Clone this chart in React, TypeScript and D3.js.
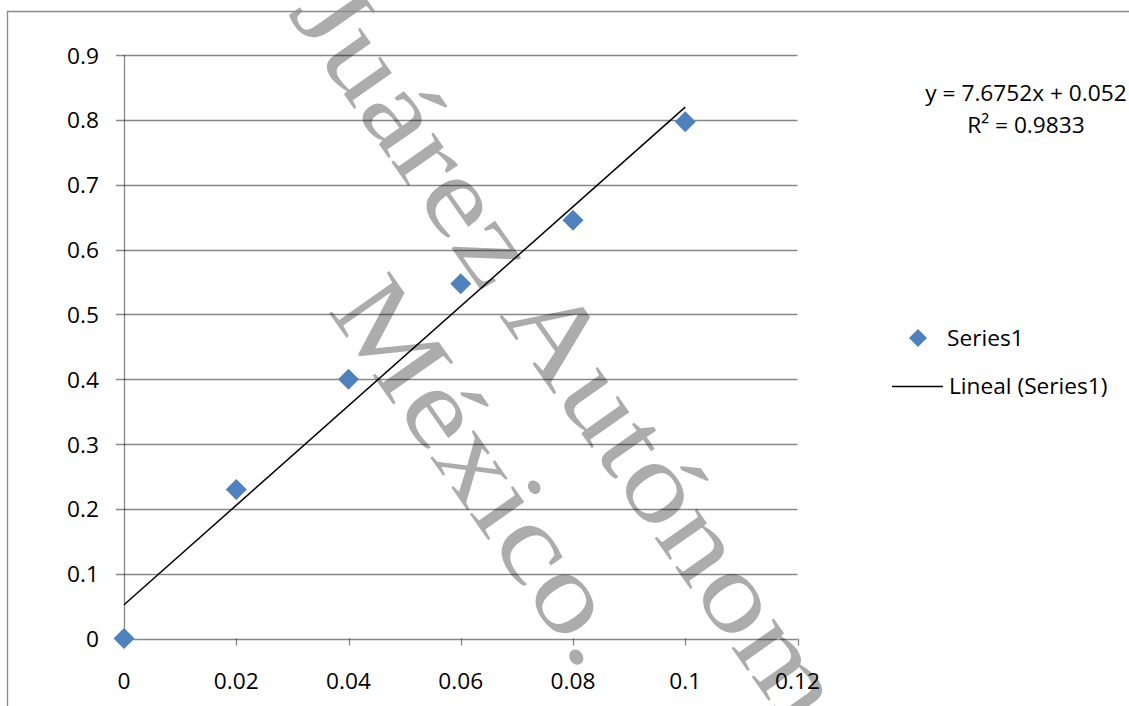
import React from "react";
import * as d3 from "d3";

const xValues = [0, 0.02, 0.04, 0.06, 0.08, 0.1];
const yValues = [0, 0.23, 0.4, 0.547, 0.645, 0.797];
const xTicks = [0, 0.02, 0.04, 0.06, 0.08, 0.1, 0.12];
const xTickLabels = ["0", "0.02", "0.04", "0.06", "0.08", "0.1", "0.12"];
const yTicks = [0, 0.1, 0.2, 0.3, 0.4, 0.5, 0.6, 0.7, 0.8, 0.9];
const yTickLabels = ["0", "0.1", "0.2", "0.3", "0.4", "0.5", "0.6", "0.7", "0.8", "0.9"];
const trendSlope = 7.6752;
const trendIntercept = 0.052;
const trendRange = [0, 0.1];
const equationText = "y = 7.6752x + 0.052";
const r2Text = "R² = 0.9833";
const seriesName = "Series1";
const trendName = "Lineal (Series1)";
const watermarkLines = ["Juárez Autónoma", "México."];

const W = 1129;
const H = 706;
const FONT = "'Open Sans', sans-serif";
const GRID = "rgba(0,0,0,0.47)";
const BLUE = "#4F81BD";

function Diamond({ cx, cy, r }: { cx: number; cy: number; r: number }) {
  return (
    <path
      d={`M${cx},${cy - r}L${cx + r},${cy}L${cx},${cy + r}L${cx - r},${cy}Z`}
      fill={BLUE}
    />
  );
}

export default function App() {
  const x = d3.scaleLinear().domain([0, 0.12]).range([124, 797.5]);
  const y = d3.scaleLinear().domain([0, 0.9]).range([638.5, 55]);
  const trend = d3
    .line<number>()
    .x((d) => x(d))
    .y((d) => y(trendSlope * d + trendIntercept));

  const wmAngle = 55;
  const wmSize = 112;
  const wmScale = 1.2;
  const wmOrigins = [
    [287, 13],
    [327, 310],
  ];

  return (
    <svg
      width={W}
      height={H}
      viewBox={`0 0 ${W} ${H}`}
      style={{ position: "absolute", left: 0, top: 0, background: "#fff" }}
    >
      <rect x={0} y={0} width={W} height={H} fill="#fff" />
      {/* watermark */}
      {watermarkLines.map((t, i) => (
        <g
          key={t}
          transform={`translate(${wmOrigins[i][0]},${wmOrigins[i][1]}) rotate(${wmAngle}) scale(${wmScale},1)`}
        >
          <text
            x={0}
            y={0}
            fontFamily="'Liberation Serif', 'Times New Roman', serif"
            fontSize={wmSize}
            fill="#7f7f7f"
            fillOpacity={0.65}
          >
            {t}
          </text>
        </g>
      ))}
      {/* chart border */}
      <path d={`M7.5,${H + 2}V11.5H${W + 2}`} fill="none" stroke="#8a8a8a" strokeWidth={1.3} />
      {/* gridlines and y ticks */}
      {yTicks.map((v) => (
        <line
          key={"g" + v}
          x1={116}
          x2={x(0.12)}
          y1={Math.round(y(v)) + 0.5}
          y2={Math.round(y(v)) + 0.5}
          stroke={GRID}
          strokeWidth={1.3}
        />
      ))}
      {/* y axis */}
      <line x1={124.5} x2={124.5} y1={y(0.9)} y2={y(0)} stroke={GRID} strokeWidth={1.3} />
      {/* x ticks */}
      {xTicks.map((v) => (
        <line
          key={"xt" + v}
          x1={Math.round(x(v)) + 0.5}
          x2={Math.round(x(v)) + 0.5}
          y1={y(0)}
          y2={y(0) + 7}
          stroke={GRID}
          strokeWidth={1.3}
        />
      ))}
      {/* y labels */}
      {yTicks.map((v, i) => (
        <text
          key={"yl" + v}
          x={99}
          y={y(v) + 8.5}
          textAnchor="end"
          fontFamily={FONT}
          fontSize={22.7}
          fill="#000"
        >
          {yTickLabels[i]}
        </text>
      ))}
      {/* x labels */}
      {xTicks.map((v, i) => (
        <text
          key={"xl" + v}
          x={x(v)}
          y={689}
          textAnchor="middle"
          fontFamily={FONT}
          fontSize={22.7}
          fill="#000"
        >
          {xTickLabels[i]}
        </text>
      ))}
      {/* trend line */}
      <path d={trend(trendRange) || ""} fill="none" stroke="#000" strokeWidth={1.5} />
      {/* points */}
      {xValues.map((v, i) => (
        <Diamond key={"p" + i} cx={x(v)} cy={y(yValues[i])} r={10.5} />
      ))}
      {/* equation */}
      <text x={1026} y={101} textAnchor="middle" fontFamily={FONT} fontSize={22.7} fill="#000">
        {equationText}
      </text>
      <text x={1026} y={133} textAnchor="middle" fontFamily={FONT} fontSize={22.7} fill="#000">
        {r2Text}
      </text>
      {/* legend */}
      <Diamond cx={918} cy={338} r={9} />
      <text x={947} y={346} fontFamily={FONT} fontSize={22.7} fill="#000">
        {seriesName}
      </text>
      <line x1={892} x2={943} y1={386.5} y2={386.5} stroke="#000" strokeWidth={1.5} />
      <text x={949} y={394} fontFamily={FONT} fontSize={22.7} fill="#000">
        {trendName}
      </text>
    </svg>
  );
}
